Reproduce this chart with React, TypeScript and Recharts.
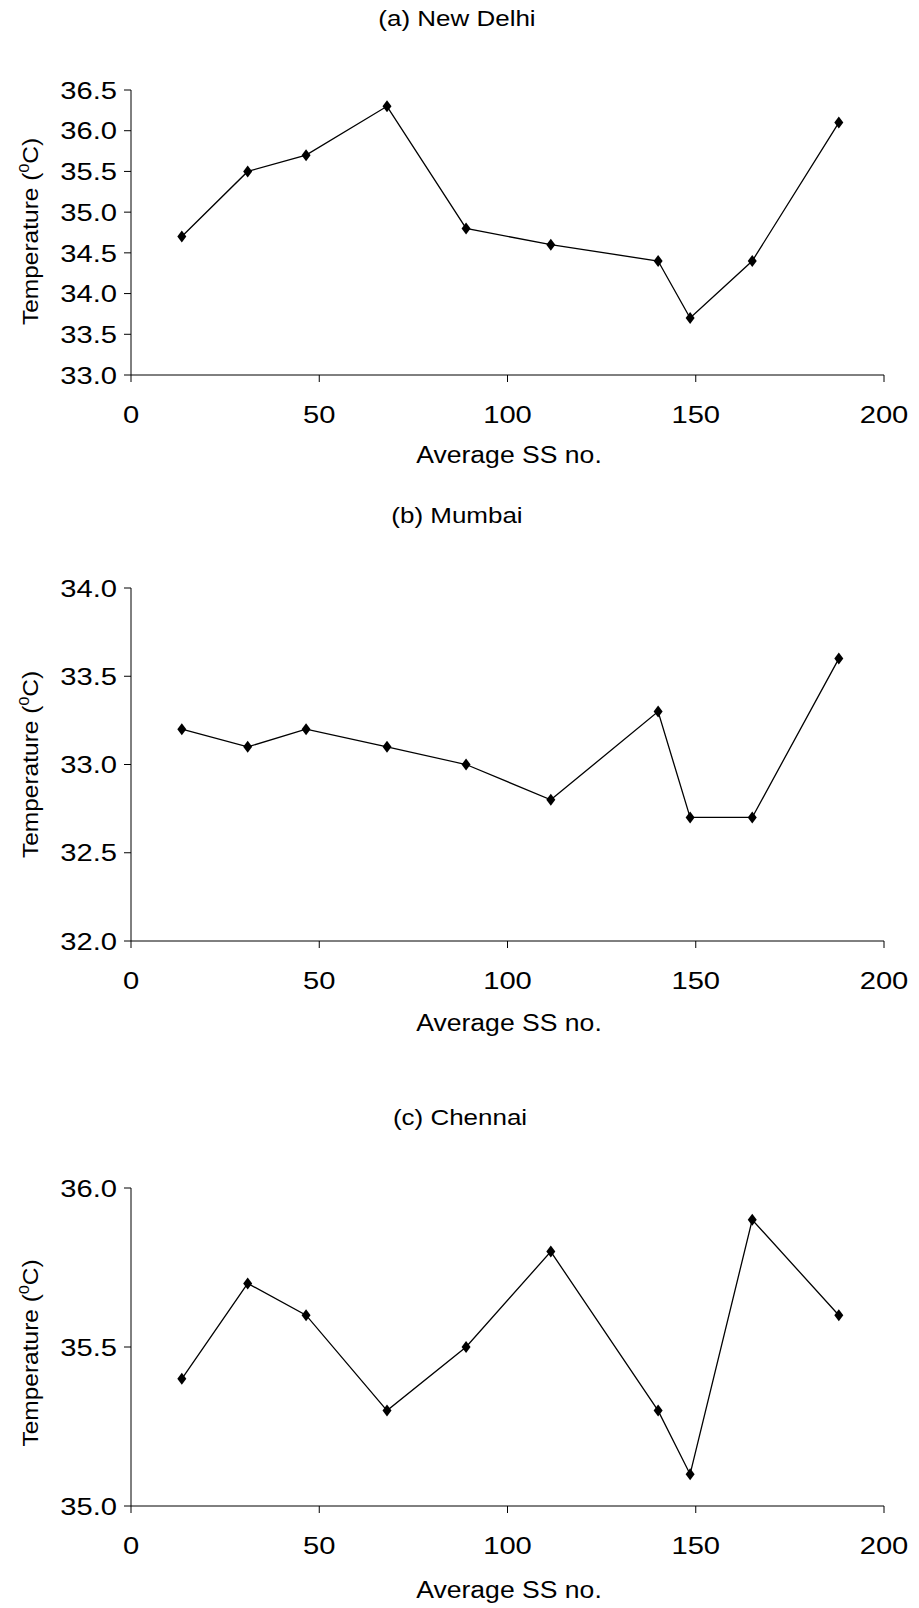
import React from 'react';
import { LineChart, Line, XAxis, YAxis } from 'recharts';

// average sunspot number bins (shared by all three cities)
const ssNo = [13.5, 31, 46.5, 68, 89, 111.5, 140, 148.5, 165, 188];

const delhiTemp = [34.7, 35.5, 35.7, 36.3, 34.8, 34.6, 34.4, 33.7, 34.4, 36.1];
const mumbaiTemp = [33.2, 33.1, 33.2, 33.1, 33.0, 32.8, 33.3, 32.7, 32.7, 33.6];
const chennaiTemp = [35.4, 35.7, 35.6, 35.3, 35.5, 35.8, 35.3, 35.1, 35.9, 35.6];

const xTicks = [0, 50, 100, 150, 200];
const delhiTicks = [33, 33.5, 34, 34.5, 35, 35.5, 36, 36.5];
const mumbaiTicks = [32, 32.5, 33, 33.5, 34];
const chennaiTicks = [35, 35.5, 36];

const FONT = '"Liberation Sans", Arial, sans-serif';
const TICK_STRETCH = 1.19; // original glyphs are wider than Arial

const toRows = (temps: number[]) => ssNo.map((x, i) => ({ x, t: temps[i] }));

const Diamond = (props: any) => {
  const { cx, cy } = props;
  if (cx == null || cy == null) return null;
  return <path d={`M${cx},${cy - 6}L${cx + 4.5},${cy}L${cx},${cy + 6}L${cx - 4.5},${cy}Z`} fill="#000" />;
};

const XTick = (props: any) => {
  const { x, y, payload } = props;
  return (
    <g transform={`translate(${x},${y}) scale(${TICK_STRETCH},1)`}>
      <text x={0} y={0} dy="0.71em" textAnchor="middle" fontFamily={FONT} fontSize={24.5} fill="#000">{payload.value}</text>
    </g>
  );
};

const YTick = (props: any) => {
  const { x, y, payload } = props;
  return (
    <g transform={`translate(${x},${y}) scale(${TICK_STRETCH},1)`}>
      <text x={0} y={0} dy="0.355em" textAnchor="end" fontFamily={FONT} fontSize={24.5} fill="#000">{Number(payload.value).toFixed(1)}</text>
    </g>
  );
};

const YTitle = (props: any) => {
  const vb = props.viewBox || {};
  const cy = vb.y + vb.height / 2 + (props.shift || 0);
  return (
    <g transform={`translate(31,${cy}) rotate(-90) scale(1.14,1)`}>
      <text x={0} y={0} textAnchor="middle" dominantBaseline="central" fontFamily={FONT} fontSize={21.5} fill="#000">
        Temperature (<tspan dy={-8} fontSize={14}>0</tspan><tspan dy={8}>C)</tspan>
      </text>
    </g>
  );
};

interface PanelProps {
  title: string;
  temps: number[];
  ticks: number[];
  top: number;
  height: number;
  mTop: number;
  mBottom: number;
  titleY: number;
  titleX: number;
  xLabelY: number;
  yShift: number;
}

const Panel: React.FC<PanelProps> = ({ title, temps, ticks, top, height, mTop, mBottom, titleY, titleX, xLabelY, yShift }) => {
  return (
    <div style={{ position: 'absolute', left: 0, top, width: 919, height }}>
      <LineChart width={919} height={height} data={toRows(temps)} margin={{ top: mTop, right: 35, bottom: mBottom - 60, left: 51 }}>
        <XAxis dataKey="x" type="number" domain={[0, 200]} ticks={xTicks} axisLine={{ stroke: '#000' }}
          tickLine={{ stroke: '#000' }} tickSize={7} tickMargin={24} height={60} tick={<XTick />} interval={0} />
        <YAxis type="number" domain={[ticks[0], ticks[ticks.length - 1]]} ticks={ticks} width={80} interval={0}
          axisLine={{ stroke: '#000' }} tickLine={{ stroke: '#000' }} tickSize={7} tickMargin={7} tick={<YTick />}
          allowDataOverflow label={(p: any) => <YTitle {...p} shift={yShift} />} />
        <Line dataKey="t" stroke="#000" strokeWidth={1.3} dot={<Diamond />} activeDot={false} isAnimationActive={false} />
      </LineChart>
      <div style={{ position: 'absolute', left: titleX, top: titleY, transform: 'translate(-50%, -50%) scaleX(1.18)', fontFamily: FONT, fontSize: 22, whiteSpace: 'nowrap' }}>{title}</div>
      <div style={{ position: 'absolute', left: 509, top: xLabelY, transform: 'translate(-50%, -50%) scaleX(1.13)', fontFamily: FONT, fontSize: 23.5, whiteSpace: 'nowrap' }}>Average SS no.</div>
    </div>
  );
};

export default function App() {
  return (
    <div style={{ position: 'absolute', left: 0, top: 0, width: 919, height: 1608, background: '#fff' }}>
      <Panel title="(a) New Delhi" temps={delhiTemp} ticks={delhiTicks} top={0} height={490} mTop={90} mBottom={115}
        titleX={457} titleY={19} xLabelY={455} yShift={-1} />
      <Panel title="(b) Mumbai" temps={mumbaiTemp} ticks={mumbaiTicks} top={490} height={570} mTop={98} mBottom={119}
        titleX={457} titleY={26} xLabelY={533} yShift={0} />
      <Panel title="(c) Chennai" temps={chennaiTemp} ticks={chennaiTicks} top={1060} height={548} mTop={128} mBottom={102}
        titleX={460} titleY={58} xLabelY={530} yShift={6} />
    </div>
  );
}
